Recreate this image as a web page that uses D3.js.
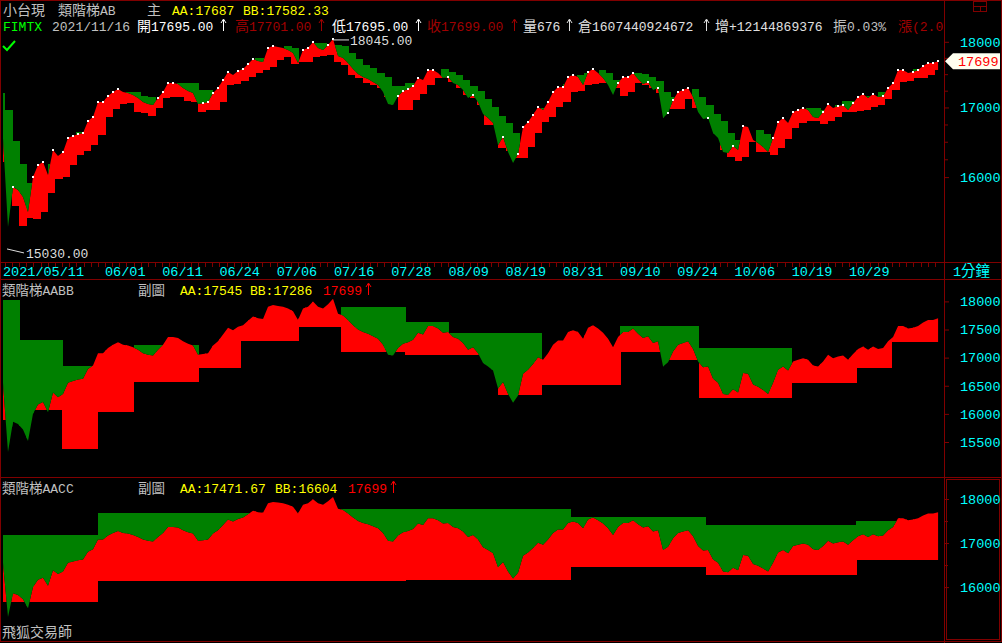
<!DOCTYPE html>
<html><head><meta charset="utf-8">
<script src="https://cdn.jsdelivr.net/npm/d3@7"></script>
<style>
body{margin:0;background:#000;overflow:hidden}
svg{display:block}
</style>
</head><body>
<svg id="c" width="1002" height="643"></svg>
<script>
// ---------------- DATA ----------------
const NDAYS = 132;
const dateLabels = ["2021/05/11","06/01","06/11","06/24","07/06","07/16","07/28","08/09","08/19","08/31","09/10","09/24","10/06","10/19","10/29"];
const dateLabelDays = [0,15,23,31,39,47,55,63,71,79,87,95,103,111,119];

// close samples (trading-day time axis)
const closeStartDay = 0.74, closeStepDay = 0.699;
const closePrices = [
16554,15320,15862,15820,15724,15520,16001,16169,16211,16028,
16381,16296,16353,16554,16583,16612,16626,16800,16859,17080,
17080,17170,17230,17275,17230,17215,17185,17140,17080,17050,
17036,17140,17230,17366,17366,17351,17290,17245,17215,17050,
17065,17080,17215,17290,17411,17533,17487,17548,17578,17655,
17732,17702,17686,17903,17934,17918,17903,17872,17825,17671,
17872,17903,17997,17903,17872,17950,18045,17779,17748,17671,
17578,17502,17457,17426,17381,17336,17230,17050,17036,17170,
17245,17275,17320,17442,17411,17563,17563,17517,17442,17457,
17366,17336,17260,17140,17185,17080,16903,16844,16771,16453,
16568,16353,16197,16325,16713,16786,16888,17006,16962,17080,
17230,17305,17305,17457,17487,17457,17336,17533,17578,17517,
17442,17336,17185,17366,17457,17457,17517,17426,17351,17381,
17260,17290,16844,16918,17110,17230,17260,17290,17155,16933,
16830,16844,16626,16554,16353,16339,16438,16381,16727,16713,
16524,16482,16424,16353,16554,16786,16844,16771,16933,16962,
16991,16962,16859,16844,16933,17050,16991,17021,17036,16962,
17065,17155,17200,17140,17200,17155,17170,17290,17366,17563,
17563,17517,17533,17563,17625,17671,17671,17699];

// 類階梯AB daily step levels (null = not shown)
const abUpper = [
17215,16962,16510,16183,15917,null,null,16183,16268,16310,
null,16640,16640,null,null,null,null,null,17230,17230,
17170,17155,null,null,null,17366,17366,17366,17260,17260,
17230,null,null,null,17578,null,17748,17748,null,null,
17934,17903,null,null,17981,17981,null,17950,17934,17825,
17732,17640,17594,17517,17457,17320,17320,17366,17366,null,
null,null,17578,17533,17487,17411,17320,17245,17125,17006,
16874,16771,16626,null,null,null,16991,null,null,17351,
null,17487,17517,null,17563,17517,17411,null,null,17517,
17502,17457,17396,17230,17155,null,null,17275,17155,17036,
16903,16800,16626,16524,null,null,16669,16611,16539,null,
null,null,null,16991,16991,16962,null,17036,17095,17095,
null,17170,17170,17230,17230,null,null,null,17578,17594,
null,null];
const abLower = [
16211,null,15601,15332,15439,15426,15520,15779,15973,16001,
16169,16310,16367,16453,16597,16859,16977,17050,17065,16933,
16918,16874,16991,17140,17155,17155,17095,17080,16933,16962,
16962,17080,17336,17351,17396,17457,17517,17563,17609,17717,
17763,17655,17686,17686,17763,17779,17794,17686,17640,17487,
17442,17366,17336,17290,17155,null,16962,16962,17110,17200,
17336,17442,17442,17381,17290,17185,17140,17036,16742,16742,
16410,16367,16268,16268,16424,16626,16786,16859,17006,17080,
17230,17245,17336,17351,17366,17366,17290,17170,17230,17366,
17336,17290,17215,16977,16977,16977,17125,16991,16991,16844,
16626,16381,16282,16225,16282,16496,16353,16353,16310,16410,
16539,16698,16771,16800,16800,16756,16800,16859,16933,16933,
16947,16962,17006,17036,17125,17260,17381,17396,17442,17442,
17487,17563];

// 類階梯AABB steps: [start day, level]
const aabbUpperSteps = [[0,18020],[3,17314],[9,16851],[14,null],[19,17225],[28,null],[48,17900],[57,17634],[63,17438],[76,null],[87,17563],[98,17171],[111,null]];
const aabbLowerSteps = [[0,15891],[3,16069],[9,15375],[14,16034],[19,16567],[28,16816],[34,17296],[42,17545],[48,17100],[57,17047],[70,16336],[76,16514],[87,17100],[93,16958],[98,16283],[111,16549],[120,16816],[125,17286]];
// 類階梯AACC steps
const aaccUpperSteps = [[0,17183],[14,17682],[48,17773],[80,17591],[99,17410],[120,17500],[126,null]];
const aaccLowerSteps = [[0,15662],[14,16139],[57,16161],[80,16456],[99,16275],[120,16604]];

const mainMajorTicks = [16000,17000,18000];
const mainMinorTicks = [16250,16500,16750,17250,17500,17750];
const aabbTicks = [15500,16000,16500,17000,17500,18000];
const aaccMajorTicks = [16000,17000,18000];
const aaccMinorTicks = [16500,17500];

const lastPrice = 17699, highPrice = 18045, lowPrice = 15030;

// ---------------- DRAW ----------------
const W = 1002, H = 643, PLOT_R = 944;
const FRAME = "#800000", CYAN = "#00ffff", YEL = "#ffff00", GRAY = "#c0c0c0", DRED = "#a00000";
const svg = d3.select("#c");
svg.append("rect").attr("width", W).attr("height", H).attr("fill", "#000");
const defs = svg.append("defs");

const x = d3.scaleLinear().domain([0, NDAYS]).range([-2.3, 942]);
const series = closePrices.map((v, i) => ({t: closeStartDay + i * closeStepDay, v}));

function expandSteps(pts) {
  const out = new Array(NDAYS).fill(null);
  pts.forEach((p, k) => {
    const end = k + 1 < pts.length ? pts[k + 1][0] : NDAYS;
    for (let j = p[0]; j < end; j++) out[j] = p[1];
  });
  return out;
}

const panels = [
  {id: "p1", top: 33, bottom: 261, y: d3.scaleLog().domain([16000, 18000]).range([177.1, 41.8]),
   upper: abUpper, lower: abLower, specks: true},
  {id: "p2", top: 281, bottom: 476, y: d3.scaleLinear().domain([15500, 18000]).range([442, 301.4]),
   upper: expandSteps(aabbUpperSteps), lower: expandSteps(aabbLowerSteps)},
  {id: "p3", top: 479, bottom: 640, y: d3.scaleLinear().domain([16000, 18000]).range([587.1, 499]),
   upper: expandSteps(aaccUpperSteps), lower: expandSteps(aaccLowerSteps)}
];

panels.forEach(p => {
  const y = p.y;
  defs.append("clipPath").attr("id", p.id + "box").append("rect")
    .attr("x", 2).attr("y", p.top).attr("width", PLOT_R - 2).attr("height", p.bottom - p.top);
  defs.append("clipPath").attr("id", p.id + "above").append("path")
    .attr("d", d3.area().x(d => x(d.t)).y0(p.top - 50).y1(d => y(d.v))(series));
  defs.append("clipPath").attr("id", p.id + "below").append("path")
    .attr("d", d3.area().x(d => x(d.t)).y0(d => y(d.v)).y1(p.bottom + 50)(series));

  const g = svg.append("g").attr("clip-path", `url(#${p.id}box)`);
  const days = d3.range(NDAYS);
  g.append("g").attr("clip-path", `url(#${p.id}below)`).attr("shape-rendering", "crispEdges")
    .selectAll("rect").data(days.filter(d => p.lower[d] != null)).join("rect")
    .attr("x", d => x(d)).attr("width", d => x(d + 1) - x(d) + 0.5)
    .attr("y", p.top - 50).attr("height", d => Math.max(0, y(p.lower[d]) - p.top + 50))
    .attr("fill", "#ff0000");
  g.append("g").attr("clip-path", `url(#${p.id}above)`).attr("shape-rendering", "crispEdges")
    .selectAll("rect").data(days.filter(d => p.upper[d] != null)).join("rect")
    .attr("x", d => x(d)).attr("width", d => x(d + 1) - x(d) + 0.5)
    .attr("y", d => y(p.upper[d])).attr("height", d => Math.max(0, p.bottom + 50 - y(p.upper[d])))
    .attr("fill", "#008000");

  if (p.specks) {
    const peaks = series.filter((d, i) => i > 0 && d.v >= series[i - 1].v);
    g.append("g").selectAll("rect").data(peaks).join("rect")
      .attr("x", d => Math.round(x(d.t)) - 1).attr("y", d => Math.round(y(d.v)) - 1)
      .attr("width", 2).attr("height", 2).attr("fill", "#fff");
  }
});

// ---------- frame ----------
const fr = svg.append("g").attr("stroke", FRAME).attr("fill", "none").attr("shape-rendering", "crispEdges");
fr.append("rect").attr("x", 0.5).attr("y", 0.5).attr("width", W - 1).attr("height", H - 2);
fr.append("line").attr("x1", PLOT_R + 0.5).attr("x2", PLOT_R + 0.5).attr("y1", 0).attr("y2", H);
[262.5, 279.5, 477.5].forEach(yy => fr.append("line").attr("x1", 0).attr("x2", W).attr("y1", yy).attr("y2", yy));
fr.append("rect").attr("x", PLOT_R + 2.5).attr("y", 479.5).attr("width", W - PLOT_R - 5).attr("height", 160).attr("stroke-width", 1);
// top-right icon
fr.append("rect").attr("x", 973.5).attr("y", 1.5).attr("width", 13).attr("height", 10);
fr.append("line").attr("x1", 973).attr("x2", 987).attr("y1", 6.5).attr("y2", 6.5);
fr.append("line").attr("x1", 980.5).attr("x2", 980.5).attr("y1", 6).attr("y2", 12);

// ---------- text helper ----------
const CJK = /[\u2E80-\u9FFF\uF900-\uFAFF\uFF00-\uFFEF]/;
function label(parent, str, px, py, color, opts = {}) {
  const t = parent.append("text").attr("x", px).attr("y", py).attr("fill", color)
    .attr("xml:space", "preserve");
  let runs = [];
  for (const ch of str) {
    const c = CJK.test(ch);
    if (runs.length && runs[runs.length - 1].c === c) runs[runs.length - 1].s += ch;
    else runs.push({c, s: ch});
  }
  runs.forEach(r => t.append("tspan").text(r.s)
    .attr("font-family", r.c ? "'Noto Sans CJK TC','Noto Sans CJK SC',sans-serif" : "'Liberation Mono','DejaVu Sans Mono',monospace")
    .attr("font-size", r.c ? (opts.cjk || 14) : (opts.lat || 13)));
  return t;
}
function arrow(parent, px, py, color) {
  parent.append("path").attr("d", `M${px + 2.5},${py} V${py - 11} M${px},${py - 8} L${px + 2.5},${py - 12} L${px + 5},${py - 8}`)
    .attr("stroke", color).attr("fill", "none").attr("stroke-width", 1);
}
const T = svg.append("g");

// header row 1
label(T, "小台現", 3, 15, GRAY);
label(T, "類階梯AB", 58, 15, GRAY);
label(T, "主", 147, 15, GRAY);
label(T, "AA:17687", 172, 15, YEL);
label(T, "BB:17582.33", 243, 15, YEL);
// header row 2
defs.append("clipPath").attr("id", "hdrclip").append("rect").attr("x", 0).attr("y", 0).attr("width", PLOT_R).attr("height", 40);
const tg = svg.append("g").attr("clip-path", "url(#hdrclip)");
label(tg, "FIMTX", 3, 31, "#00ff00");
label(tg, "2021/11/16", 52, 31, GRAY);
label(tg, "開17695.00", 137, 31, "#fff");
arrow(tg, 221, 31, "#fff");
label(tg, "高17701.00", 235, 31, DRED);
arrow(tg, 319, 31, DRED);
label(tg, "低17695.00", 332, 31, "#fff");
arrow(tg, 416, 31, "#fff");
label(tg, "收17699.00", 427, 31, DRED);
arrow(tg, 512, 31, DRED);
label(tg, "量676", 523, 31, "#e0e0e0");
arrow(tg, 567, 31, "#e0e0e0");
label(tg, "倉1607440924672", 578, 31, "#e0e0e0");
arrow(tg, 704, 31, "#e0e0e0");
label(tg, "增+12144869376", 715, 31, "#e0e0e0");
label(tg, "振0.03%", 833, 31, GRAY);
label(tg, "漲(2.07%)", 898, 31, DRED);

// check mark
svg.append("polyline").attr("points", "3,46 7,50 15,41").attr("fill", "none")
  .attr("stroke", "#00ff00").attr("stroke-width", 2);

// annotations
const y1 = panels[0].y;
const hiT = series.find(d => d.v === highPrice).t;
svg.append("line").attr("x1", x(hiT)).attr("y1", y1(highPrice) + 1).attr("x2", x(hiT) + 16).attr("y2", y1(highPrice) + 1).attr("stroke", "#ddd");
label(T, "18045.00", x(hiT) + 17, y1(highPrice) + 6, "#ddd");
svg.append("line").attr("x1", 7).attr("y1", y1(lowPrice)).attr("x2", 24).attr("y2", y1(lowPrice) + 4).attr("stroke", "#ddd");
label(T, "15030.00", 26, y1(lowPrice) + 9, "#ddd");

// sub panel headers
label(T, "類階梯AABB", 2, 295, GRAY, {cjk: 13.5});
label(T, "副圖", 138, 295, GRAY, {cjk: 13.5});
label(T, "AA:17545", 180, 295, YEL);
label(T, "BB:17286", 250, 295, YEL);
label(T, "17699", 323, 295, "#ff0000");
arrow(T, 366, 295, "#ff0000");

label(T, "類階梯AACC", 2, 493, GRAY, {cjk: 13.5});
label(T, "副圖", 138, 493, GRAY, {cjk: 13.5});
label(T, "AA:17471.67", 180, 493, YEL);
label(T, "BB:16604", 275, 493, YEL);
label(T, "17699", 348, 493, "#ff0000");
arrow(T, 391, 493, "#ff0000");

label(T, "飛狐交易師", 2, 637, GRAY);

// ---------- date axis ----------
const dax = svg.append("g").attr("transform", "translate(0,263)")
  .call(d3.axisBottom(x).tickValues(d3.range(1, NDAYS)).tickSize(4).tickFormat(""));
dax.select(".domain").remove();
dax.selectAll("line").attr("stroke", FRAME).attr("shape-rendering", "crispEdges");
dax.selectAll(".tick").filter(d => x(d) > PLOT_R - 2).remove();
dateLabels.forEach((s, i) => label(T, s, Math.max(3, x(dateLabelDays[i])), 276, CYAN, {lat: 13.5}));
label(T, "1分鐘", 953, 276, CYAN, {lat: 13.5, cjk: 14.5});

// ---------- right axes ----------
function rightAxis(scale, major, minor) {
  const a = svg.append("g").attr("transform", `translate(${PLOT_R + 1},0)`)
    .call(d3.axisRight(scale).tickValues(major).tickSize(4).tickPadding(11).tickFormat(d3.format("d")));
  a.select(".domain").remove();
  a.selectAll("line").attr("stroke", FRAME);
  a.selectAll("text").attr("fill", CYAN).attr("font-family", "'Liberation Mono',monospace").attr("font-size", 13.5);
  if (minor) {
    const b = svg.append("g").attr("transform", `translate(${PLOT_R + 1},0)`)
      .call(d3.axisRight(scale).tickValues(minor).tickSize(3).tickFormat(""));
    b.select(".domain").remove();
    b.selectAll("line").attr("stroke", FRAME);
  }
}
rightAxis(panels[0].y, mainMajorTicks, mainMinorTicks);
rightAxis(panels[1].y, aabbTicks, null);
rightAxis(panels[2].y, aaccMajorTicks, aaccMinorTicks);

// last price marker
const ly = y1(lastPrice);
svg.append("polygon")
  .attr("points", [[PLOT_R + 1, ly], [PLOT_R + 9, ly - 8], [1000, ly - 8], [1000, ly + 8], [PLOT_R + 9, ly + 8]].map(p => p.join(",")).join(" "))
  .attr("fill", "#fffff0");
label(svg, String(lastPrice), 958, ly + 5, "#ff0000", {lat: 13.5});
</script>
</body></html>
